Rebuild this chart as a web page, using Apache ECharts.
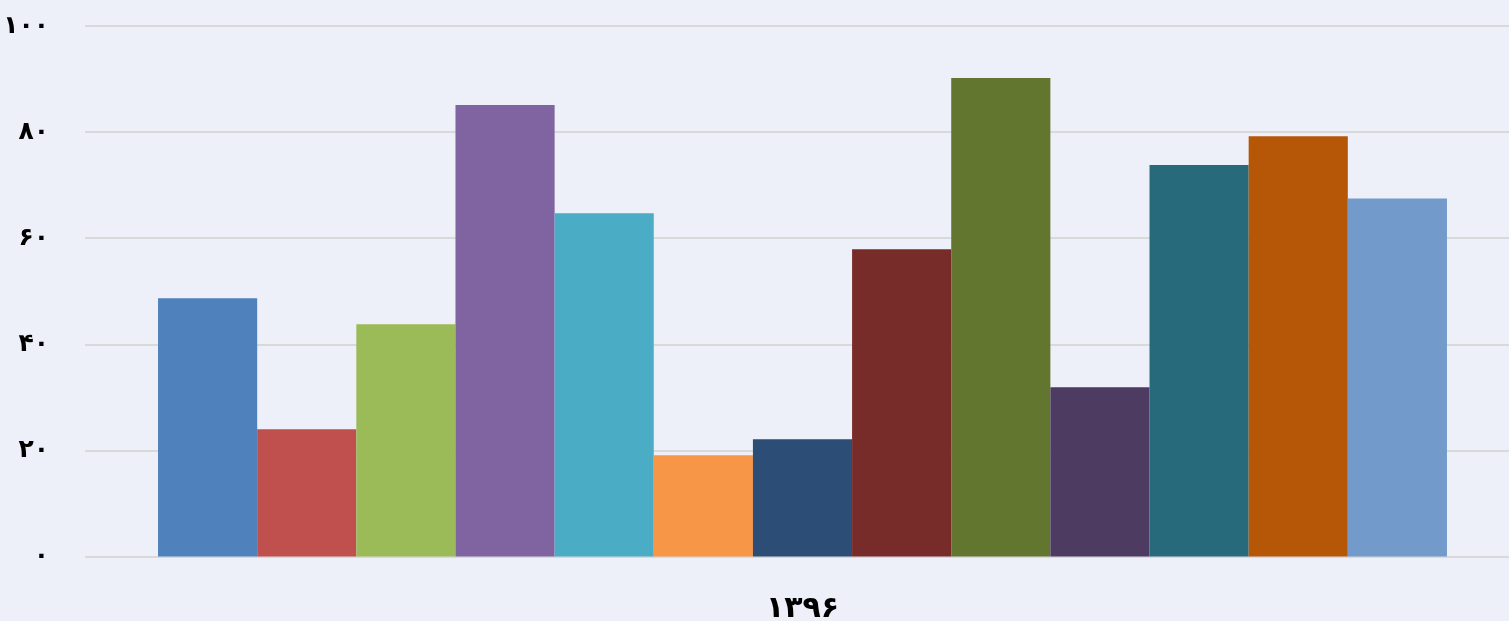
<!DOCTYPE html>
<html><head><meta charset="utf-8">
<script src="https://cdn.jsdelivr.net/npm/echarts@6/dist/echarts.min.js"></script>
<style>html,body{margin:0;padding:0;background:#EDF0F8;}#c{width:1509px;height:621px;}</style>
</head><body><div id="c"></div>
<script>
const categories = ['۱۳۹۶'];
const seriesValues = [48.7, 24.0, 43.8, 85.1, 64.7, 19.1, 22.1, 57.9, 90.2, 31.9, 73.8, 79.2, 67.5];
const seriesNames = ['S1','S2','S3','S4','S5','S6','S7','S8','S9','S10','S11','S12','S13'];
const colors = ['#4F81BD','#C0504D','#9BBB59','#8064A2','#4BACC6','#F79646','#2C4D75','#772C2A','#637630','#4D3B62','#276A7C','#B65708','#729ACA'];
const yTickValues = [0, 20, 40, 60, 80, 100];
const yTickLabels = ['۰','۲۰','۴۰','۶۰','۸۰','۱۰۰'];

const chart = echarts.init(document.getElementById('c'));
chart.setOption({
  backgroundColor: '#EDF0F8',
  animation: false,
  grid: [
    {left: 85, right: 0, top: 26, bottom: 64.5, outerBoundsMode: 'none', containLabel: false},
    {left: 96, right: 0, top: 26, bottom: 64.5, outerBoundsMode: 'none', containLabel: false}
  ],
  xAxis: [
    {gridIndex: 0, type: 'category', data: categories, show: false},
    {
      gridIndex: 1, type: 'category', data: categories,
      axisLine: {show: false}, axisTick: {show: false},
      axisLabel: {fontFamily: 'DejaVu Sans', fontWeight: 'bold', fontSize: 30, color: '#000', margin: 38}
    }
  ],
  yAxis: [
    {
      gridIndex: 0, type: 'value', min: 0, max: 100, interval: 20,
      axisLine: {show: false}, axisTick: {show: false},
      splitLine: {lineStyle: {color: '#D9D9D9', width: 2}},
      axisLabel: {
        fontFamily: 'DejaVu Sans', fontWeight: 'bold', fontSize: 25, color: '#000', margin: 36,
        formatter: v => { const i = yTickValues.indexOf(v); return i >= 0 ? yTickLabels[i] : ''; }
      }
    },
    {
      gridIndex: 1, type: 'value', min: 0, max: 100, interval: 20,
      show: false, splitLine: {show: false}
    }
  ],
  series: seriesValues.map((v, i) => ({
    name: seriesNames[i], type: 'bar', data: [v],
    xAxisIndex: 1, yAxisIndex: 1,
    itemStyle: {color: colors[i]},
    barGap: '0%', barCategoryGap: '8.78%'
  }))
});
</script></body></html>
